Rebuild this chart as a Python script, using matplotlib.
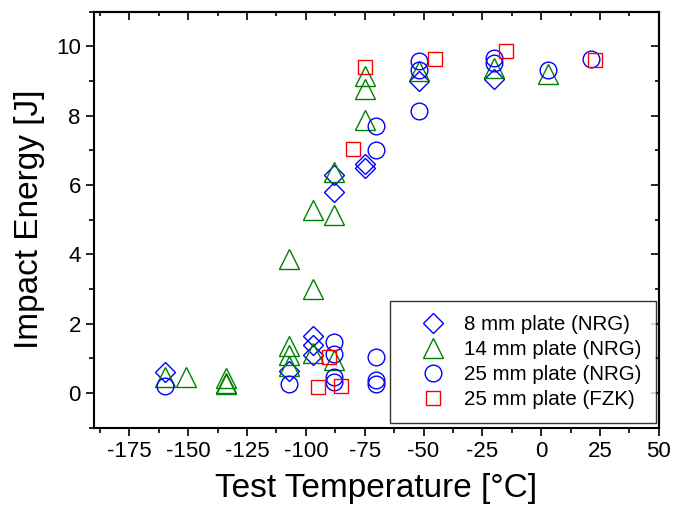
import matplotlib
matplotlib.use("Agg")
import matplotlib.pyplot as plt
from matplotlib.ticker import MultipleLocator

plt.rcParams['font.family'] = ['Liberation Sans', 'DejaVu Sans']
plt.rcParams['axes.unicode_minus'] = False

# 8 mm plate (NRG)
t_8mm = [-160, -107, -97, -97, -97, -88, -88, -75, -75, -52, -20]
e_8mm = [0.6, 0.65, 1.64, 1.38, 1.1, 6.3, 5.8, 6.6, 6.5, 9.0, 9.05]

# 14 mm plate (NRG)
t_14mm = [-160, -151, -134, -134, -134, -107, -107, -107, -107, -97, -97,
          -97, -88, -88, -88, -75, -75, -75, -52, -20, 3]
e_14mm = [0.45, 0.45, 0.42, 0.3, 0.25, 3.88, 1.35, 1.1, 0.78, 3.0, 5.28,
          1.15, 6.38, 5.14, 0.95, 7.88, 8.77, 9.15, 9.3, 9.38, 9.2]

# 25 mm plate (NRG)
t_25mm = [-160, -107, -88, -88, -88, -88, -70, -70, -70, -70, -70,
          -52, -52, -52, -20, -20, 3, 21]
e_25mm = [0.2, 0.27, 1.47, 1.14, 0.46, 0.32, 1.04, 0.39, 0.27, 7.71, 7.01,
          8.14, 9.57, 9.31, 9.66, 9.52, 9.33, 9.64]

# 25 mm plate (FZK)
t_fzk = [-90, -95, -85, -80, -75, -45, -15, 23]
e_fzk = [1.04, 0.17, 0.2, 7.04, 9.42, 9.64, 9.86, 9.62]

fig = plt.figure(figsize=(6.73, 5.11), dpi=100)
ax = fig.add_axes([0.1397, 0.163, 0.8393, 0.814])

mk = dict(linestyle='none', markerfacecolor='none', markeredgewidth=1.0)
ax.plot(t_8mm, e_8mm, marker='D', ms=10.5, markeredgecolor='#0000ff',
        label='8 mm plate (NRG)', **mk)
ax.plot(t_14mm, e_14mm, marker='^', ms=14, markeredgecolor='#008000',
        label='14 mm plate (NRG)', **mk)
ax.plot(t_25mm, e_25mm, marker='o', ms=12, markeredgecolor='#0000ff',
        label='25 mm plate (NRG)', **mk)
ax.plot(t_fzk, e_fzk, marker='s', ms=10.5, markeredgecolor='#ff0000',
        label='25 mm plate (FZK)', **mk)

ax.set_xlim(-190, 50)
ax.set_ylim(-1, 11)
ax.xaxis.set_major_locator(MultipleLocator(25))
ax.xaxis.set_minor_locator(MultipleLocator(12.5))
ax.yaxis.set_major_locator(MultipleLocator(2))
ax.yaxis.set_minor_locator(MultipleLocator(1))

ax.tick_params(which='both', direction='out', width=1.2, labelsize=16)
ax.tick_params(which='major', length=6)
ax.tick_params(which='minor', length=3.5)
for s in ax.spines.values():
    s.set_linewidth(1.5)

# mirrored ticks pointing inwards on top and right
top = ax.secondary_xaxis('top')
top.xaxis.set_major_locator(MultipleLocator(25))
top.xaxis.set_minor_locator(MultipleLocator(12.5))
top.tick_params(which='both', direction='in', width=1.2, labeltop=False)
top.tick_params(which='major', length=6)
top.tick_params(which='minor', length=3)
right = ax.secondary_yaxis('right')
right.yaxis.set_major_locator(MultipleLocator(2))
right.yaxis.set_minor_locator(MultipleLocator(1))
right.tick_params(which='both', direction='in', width=1.2, labelright=False)
right.tick_params(which='major', length=6)
right.tick_params(which='minor', length=3)
top.spines['top'].set_linewidth(1.5)
right.spines['right'].set_linewidth(1.5)

ax.set_xlabel('Test Temperature [°C]', fontsize=24, labelpad=8)
ax.set_ylabel('Impact Energy [J]', fontsize=24, labelpad=8)

leg = ax.legend(loc='lower right', bbox_to_anchor=(0.995, 0.011), numpoints=1,
                fontsize=14.8, frameon=True, fancybox=False, edgecolor='black',
                labelspacing=0.28, handletextpad=0.1, borderpad=0.7,
                handlelength=2.8, borderaxespad=0)
leg.get_frame().set_linewidth(1.0)

fig.savefig('out.png', dpi=100)
